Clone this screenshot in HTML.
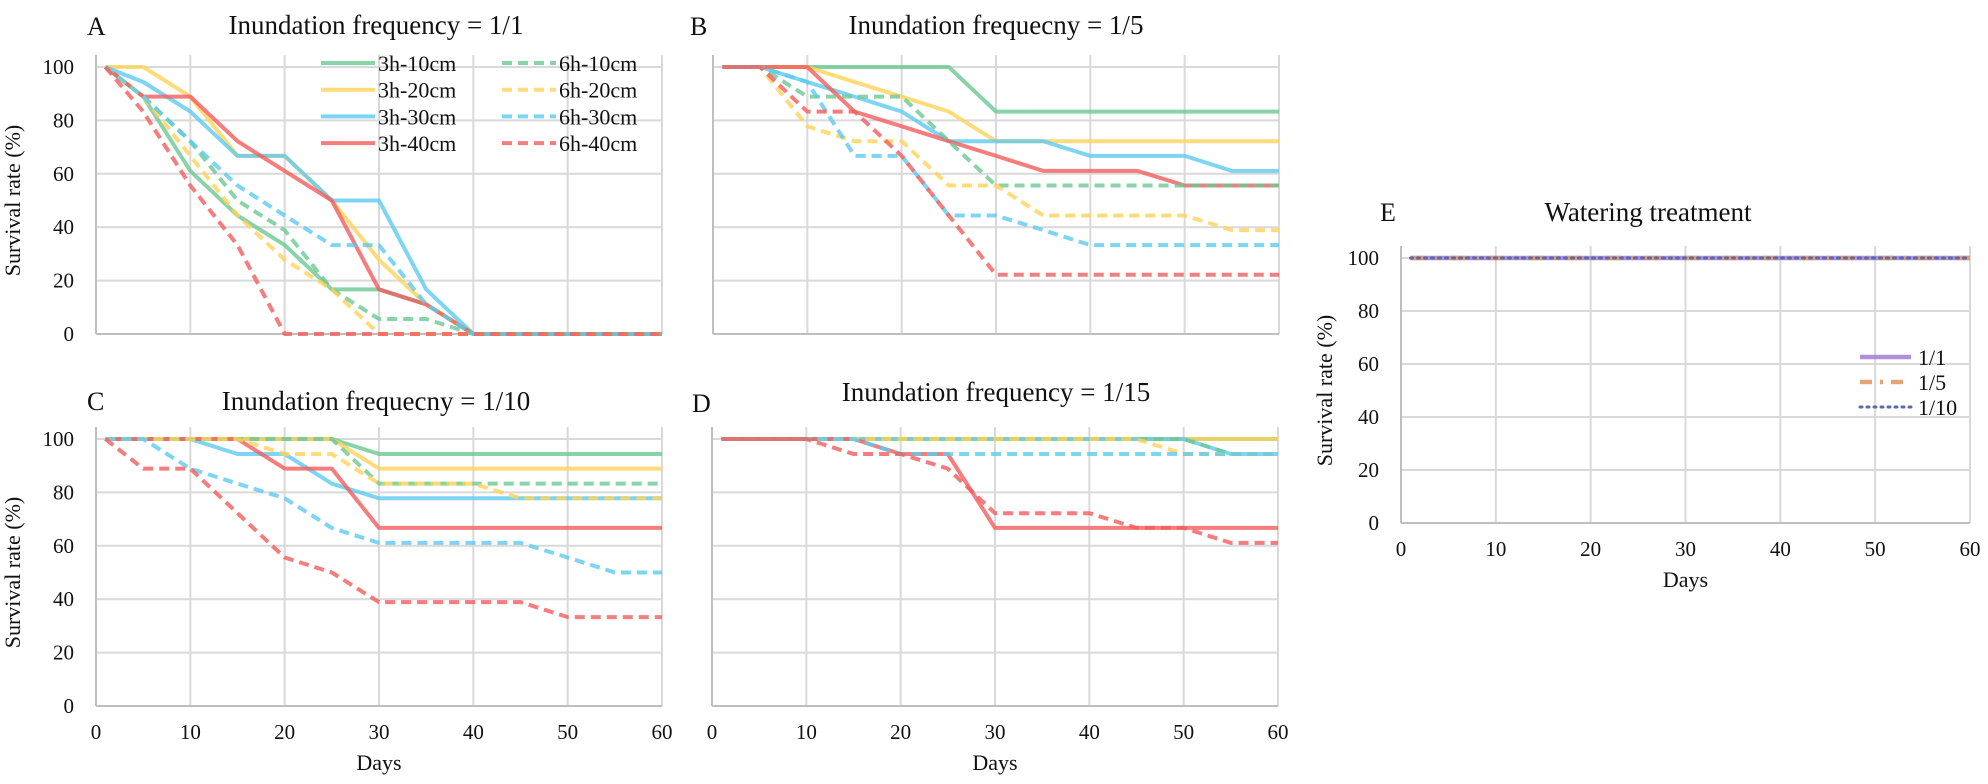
<!DOCTYPE html>
<html><head><meta charset="utf-8"><style>
body{margin:0;background:#fff;}
svg{display:block;font-family:"Liberation Serif",serif;}
</style></head><body>
<svg id="fig" width="1988" height="784" viewBox="0 0 1988 784" xmlns="http://www.w3.org/2000/svg"></svg>
<script>
const days = [1,5,10,15,20,25,30,35,40,45,50,55,60];
const yTicks = [0,20,40,60,80,100];
const xTicks = [0,10,20,30,40,50,60];
const seriesNames = ["3h-10cm","3h-20cm","3h-30cm","3h-40cm","6h-10cm","6h-20cm","6h-30cm","6h-40cm"];
// Panel A
const a3h10 = [100,88.9,61.1,44.4,33.3,16.7,16.7,11.1,0,0,0,0,0];
const a3h20 = [100,100,88.9,66.7,66.7,50,27.8,11.1,0,0,0,0,0];
const a3h30 = [100,94.4,83.3,66.7,66.7,50,50,16.7,0,0,0,0,0];
const a3h40 = [100,88.9,88.9,72.2,61.1,50,16.7,11.1,0,0,0,0,0];
const a6h10 = [100,88.9,72.2,50,38.9,16.7,5.6,5.6,0,0,0,0,0];
const a6h20 = [100,88.9,66.7,44.4,27.8,16.7,0,0,0,0,0,0,0];
const a6h30 = [100,88.9,72.2,55.6,44.4,33.3,33.3,11.1,0,0,0,0,0];
const a6h40 = [100,83.3,55.6,33.3,0,0,0,0,0,0,0,0,0];
// Panel B
const b3h10 = [100,100,100,100,100,100,83.3,83.3,83.3,83.3,83.3,83.3,83.3];
const b3h20 = [100,100,100,94.4,88.9,83.3,72.2,72.2,72.2,72.2,72.2,72.2,72.2];
const b3h30 = [100,100,94.4,88.9,83.3,72.2,72.2,72.2,66.7,66.7,66.7,61.1,61.1];
const b3h40 = [100,100,100,83.3,77.8,72.2,66.7,61.1,61.1,61.1,55.6,55.6,55.6];
const b6h10 = [100,100,88.9,88.9,88.9,72.2,55.6,55.6,55.6,55.6,55.6,55.6,55.6];
const b6h20 = [100,100,77.8,72.2,72.2,55.6,55.6,44.4,44.4,44.4,44.4,38.9,38.9];
const b6h30 = [100,100,94.4,66.7,66.7,44.4,44.4,38.9,33.3,33.3,33.3,33.3,33.3];
const b6h40 = [100,100,83.3,83.3,66.7,44.4,22.2,22.2,22.2,22.2,22.2,22.2,22.2];
// Panel C
const c3h10 = [100,100,100,100,100,100,94.4,94.4,94.4,94.4,94.4,94.4,94.4];
const c3h20 = [100,100,100,100,100,100,88.9,88.9,88.9,88.9,88.9,88.9,88.9];
const c3h30 = [100,100,100,94.4,94.4,83.3,77.8,77.8,77.8,77.8,77.8,77.8,77.8];
const c3h40 = [100,100,100,100,88.9,88.9,66.7,66.7,66.7,66.7,66.7,66.7,66.7];
const c6h10 = [100,100,100,100,100,100,83.3,83.3,83.3,83.3,83.3,83.3,83.3];
const c6h20 = [100,100,100,100,94.4,94.4,83.3,83.3,83.3,77.8,77.8,77.8,77.8];
const c6h30 = [100,100,88.9,83.3,77.8,66.7,61.1,61.1,61.1,61.1,55.6,50,50];
const c6h40 = [100,88.9,88.9,72.2,55.6,50,38.9,38.9,38.9,38.9,33.3,33.3,33.3];
// Panel D
const d3h10 = [100,100,100,100,100,100,100,100,100,100,100,100,100];
const d3h20 = [100,100,100,100,100,100,100,100,100,100,100,100,100];
const d3h30 = [100,100,100,100,100,100,100,100,100,100,100,94.4,94.4];
const d3h40 = [100,100,100,100,94.4,94.4,66.7,66.7,66.7,66.7,66.7,66.7,66.7];
const d6h10 = [100,100,100,100,100,100,100,100,100,100,100,94.4,94.4];
const d6h20 = [100,100,100,100,100,100,100,100,100,100,94.4,94.4,94.4];
const d6h30 = [100,100,100,100,94.4,94.4,94.4,94.4,94.4,94.4,94.4,94.4,94.4];
const d6h40 = [100,100,100,94.4,94.4,88.9,72.2,72.2,72.2,66.7,66.7,61.1,61.1];
// Panel E
const eNames = ["1/1","1/5","1/10"];
const e11 = [100,100,100,100,100,100,100,100,100,100,100,100,100];
const e15 = [100,100,100,100,100,100,100,100,100,100,100,100,100];
const e110 = [100,100,100,100,100,100,100,100,100,100,100,100,100];

const NS = "http://www.w3.org/2000/svg";
const svg = document.getElementById("fig");
function mk(tag, attrs, parent){
  const el = document.createElementNS(NS, tag);
  for (const k in attrs) el.setAttribute(k, attrs[k]);
  (parent||svg).appendChild(el);
  return el;
}
const colors = ["#6cc894","#ffd257","#5ccaf0","#f25c5c"];
const styles = seriesNames.map((n,i)=>({color:colors[i%4], dash: i>=4 ? "10,6" : null}));

function panel(cfg){
  const g = mk("g", {});
  
  
  const sx = d => cfg.x0 + (cfg.x1-cfg.x0)*d/60;
  const sy = v => cfg.y0 + (cfg.y100-cfg.y0)*v/100;
  xTicks.forEach(t=>{
    if(t===0) return;
    const l = mk("line",{x1:sx(t),x2:sx(t),y1:sy(0),y2:sy(100)-12,stroke:"#d9d9d9","stroke-width":2},g);
    
    
  });
  yTicks.forEach(t=>{
    if(t===0) return;
    const l = mk("line",{x1:sx(0),x2:sx(60),y1:sy(t),y2:sy(t),stroke:"#d9d9d9","stroke-width":2},g);
    
    
  });
  const ax = mk("line",{x1:sx(0),x2:sx(0),y1:sy(0),y2:sy(100)-12,stroke:"#bfbfbf","stroke-width":2},g);
  
  
  const bx = mk("line",{x1:sx(0),x2:sx(60),y1:sy(0),y2:sy(0),stroke:"#bfbfbf","stroke-width":2},g);
  
  
  if(cfg.yLabels){
    yTicks.forEach(t=>{
      const tx = mk("text",{x:sx(0)-22,y:sy(t)+7,"text-anchor":"end","font-size":21,fill:"#111"},g);
      tx.textContent = t;
      
      
    });
    const yt = mk("text",{x:0,y:0,"text-anchor":"middle","font-size":22,fill:"#111",transform:`translate(${cfg.ytX},${(sy(0)+sy(100))/2}) rotate(-90)`},g);
    yt.textContent = "Survival rate (%)";
    
    
  }
  if(cfg.xLabels){
    xTicks.forEach(t=>{
      const tx = mk("text",{x:sx(t),y:sy(0)+33,"text-anchor":"middle","font-size":21,fill:"#111"},g);
      tx.textContent = t;
      
      
    });
    const xt = mk("text",{x:(sx(0)+sx(60))/2,y:sy(0)+64,"text-anchor":"middle","font-size":22,fill:"#111"},g);
    xt.textContent = "Days";
    
    
  }
  const lt = mk("text",{x:cfg.letterX,y:cfg.letterY,"font-size":26,fill:"#111"},g);
  lt.textContent = cfg.letter;
  
  
  const tt = mk("text",{x:cfg.titleX,y:cfg.titleY,"text-anchor":"middle","font-size":27,fill:"#111"},g);
  tt.textContent = cfg.title;
  
  
  cfg.series.forEach((vals,i)=>{
    const st = cfg.styles[i];
    const pts = vals.map((v,j)=>sx(days[j]).toFixed(1)+","+sy(v).toFixed(1)).join(" ");
    const a = {points:pts,fill:"none",stroke:st.color,"stroke-width":st.w||4,"stroke-opacity":st.op||0.8,"stroke-linejoin":"round"};
    if(st.dash) a["stroke-dasharray"] = st.dash;
    if(st.cap) a["stroke-linecap"] = st.cap;
    const pl = mk("polyline",a,g);
    
    
  });
  return {sx,sy,g};
}

panel({name:"panel-a",x0:96,x1:662,y0:334,y100:67,yLabels:true,xLabels:false,ytX:20,letter:"A",letterX:87,letterY:35,title:"Inundation frequency = 1/1",titleX:376,titleY:34,series:[a3h10,a3h20,a3h30,a3h40,a6h10,a6h20,a6h30,a6h40],styles,names:seriesNames});
panel({name:"panel-b",x0:713,x1:1279,y0:334,y100:67,yLabels:false,xLabels:false,letter:"B",letterX:690,letterY:35,title:"Inundation frequecny = 1/5",titleX:996,titleY:34,series:[b3h10,b3h20,b3h30,b3h40,b6h10,b6h20,b6h30,b6h40],styles,names:seriesNames});
panel({name:"panel-c",x0:96,x1:662,y0:706,y100:439,yLabels:true,xLabels:true,ytX:20,letter:"C",letterX:87,letterY:410,title:"Inundation frequecny = 1/10",titleX:376,titleY:410,series:[c3h10,c3h20,c3h30,c3h40,c6h10,c6h20,c6h30,c6h40],styles,names:seriesNames});
panel({name:"panel-d",x0:712,x1:1278,y0:706,y100:439,yLabels:false,xLabels:true,letter:"D",letterX:692,letterY:412,title:"Inundation frequency = 1/15",titleX:996,titleY:401,series:[d3h10,d3h20,d3h30,d3h40,d6h10,d6h20,d6h30,d6h40],styles,names:seriesNames});
const eStyles = [{color:"#a784d8",w:4.5,op:0.9},{color:"#e09a68",w:4.5,op:0.9,dash:"16,10,3,10"},{color:"#5a6aac",w:3,op:1,dash:"2,5",cap:"round"}];
panel({name:"panel-e",x0:1401,x1:1970,y0:523,y100:258,yLabels:true,xLabels:true,ytX:1332,letter:"E",letterX:1380,letterY:221,title:"Watering treatment",titleX:1648,titleY:221,series:[e11,e15,e110],styles:eStyles,names:eNames});

const leg = mk("g",{});


seriesNames.forEach((n,i)=>{
  const col = i<4?0:1;
  const row = i%4;
  const lx = col===0?321:502;
  const ly = 63 + row*26.7;
  const a = {x1:lx,x2:lx+54,y1:ly,y2:ly,stroke:styles[i].color,"stroke-width":4,"stroke-opacity":0.8};
  if(styles[i].dash) a["stroke-dasharray"]="10,6";
  const l = mk("line",a,leg);
  
  
  const t = mk("text",{x:lx+57,y:ly+8,"font-size":22,fill:"#111"},leg);
  t.textContent = n;
  
  
});
const legE = mk("g",{});


eNames.forEach((n,i)=>{
  const ly = 357 + i*25;
  const st = eStyles[i];
  const a = {x1:1860,x2:1911,y1:ly,y2:ly,stroke:st.color,"stroke-width":st.w,"stroke-opacity":st.op};
  if(st.dash) a["stroke-dasharray"]= i===1 ? "12,8,3,8" : st.dash;
  if(st.cap) a["stroke-linecap"]=st.cap;
  const l = mk("line",a,legE);
  
  
  const t = mk("text",{x:1918,y:ly+8,"font-size":22,fill:"#111"},legE);
  t.textContent = n;
  
  
});
</script>
</body></html>
